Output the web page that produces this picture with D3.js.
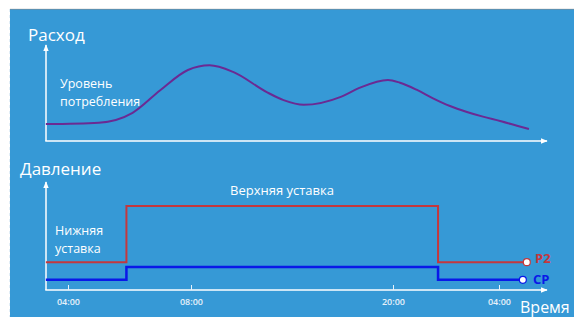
<!DOCTYPE html>
<html><head><meta charset="utf-8">
<script src="https://cdn.jsdelivr.net/npm/d3@7"></script>
<style>html,body{margin:0;padding:0;background:#fff;overflow:hidden}svg{display:block}text{font-family:"Open Sans","Noto Sans",sans-serif}</style>
</head><body><svg id="c" width="574" height="317"></svg>
<script>
// ---- data ----
const tickHours = [4, 8, 20, 28];
const tickLabels = ["04:00", "08:00", "20:00", "04:00"];
// consumption curve (hours, relative level 0..100)
const flowHours  = [3.28, 5.0, 6.1, 7.0, 7.9, 9.1, 10.5, 12.5, 13.5, 14.7, 16.9, 18.0, 19.7, 20.53, 21.81, 23.02, 24.3, 25.58, 26.79, 28.08, 29.36, 30.26];
const flowValues = [18, 19.5, 30, 54, 75.5, 80.5, 73.5, 52, 43.5, 38.5, 47, 56.5, 65, 62, 54.3, 45.4, 37.2, 30.9, 25.9, 21.3, 16.3, 12.8];
// pressure set-points (step series)
const p2Hours  = [3.28, 5.9, 23.4, 30.1];
const p2Values = [2.6, 7.85, 2.6, 2.6];
const cpHours  = [3.28, 5.9, 23.4, 29.8];
const cpValues = [0.95, 2.15, 0.95, 0.95];

const svg = d3.select("#c");
const W = 574, H = 317;
const BG = "#3699d6";

// background
svg.append("rect").attr("x", 10).attr("y", 9).attr("width", W - 10).attr("height", H - 9).attr("fill", BG);
svg.append("line").attr("x1", 10).attr("x2", W).attr("y1", 9.25).attr("y2", 9.25).attr("stroke", "#8a8a8a").attr("stroke-width", 0.6);
svg.append("line").attr("x1", 9.5).attr("x2", 9.5).attr("y1", 9).attr("y2", H)
  .attr("stroke", "#cfe3f3").attr("stroke-width", 1).attr("stroke-dasharray", "3,3").attr("opacity", 0.6);

// arrow marker
const defs = svg.append("defs");
defs.append("marker").attr("id", "arr").attr("viewBox", "0 0 10 10").attr("refX", 9).attr("refY", 5)
  .attr("markerWidth", 7).attr("markerHeight", 7).attr("markerUnits", "userSpaceOnUse").attr("orient", "auto")
  .append("path").attr("d", "M0,1 L10,5 L0,9 Z").attr("fill", "#fff");

// scales
const x = d3.scaleLinear().domain(tickHours).range([68, 191, 393, 499]);
const yTop = d3.scaleLinear().domain([0, 100]).range([141, 47]);
const yBot = d3.scaleLinear().domain([0, 10]).range([290, 183]);
const x0 = 46, xEnd = 547;

// ---- top chart ----
svg.append("line").attr("x1", x0).attr("x2", x0).attr("y1", 141).attr("y2", 45)
  .attr("stroke", "#fff").attr("stroke-width", 1.5).attr("marker-end", "url(#arr)");
svg.append("line").attr("x1", x0 - 0.75).attr("x2", xEnd).attr("y1", 141).attr("y2", 141)
  .attr("stroke", "#fff").attr("stroke-width", 1.5).attr("marker-end", "url(#arr)");

const flow = flowHours.map((h, i) => [h, flowValues[i]]);
svg.append("path").datum(flow)
  .attr("d", d3.line().x(d => x(d[0])).y(d => yTop(d[1])).curve(d3.curveMonotoneX))
  .attr("fill", "none").attr("stroke", "#6b2a93").attr("stroke-width", 2);

svg.append("text").attr("x", 28).attr("y", 41).attr("fill", "#fff").attr("font-size", 17).text("Расход");
svg.append("text").attr("x", 60).attr("y", 88).attr("fill", "#fff").attr("font-size", 12.5).text("Уровень");
svg.append("text").attr("x", 60).attr("y", 105.5).attr("fill", "#fff").attr("font-size", 12.5).text("потребления");

// ---- bottom chart ----
svg.append("line").attr("x1", x0).attr("x2", x0).attr("y1", 290).attr("y2", 182)
  .attr("stroke", "#fff").attr("stroke-width", 1.5).attr("marker-end", "url(#arr)");
svg.append("line").attr("x1", x0 - 0.75).attr("x2", xEnd).attr("y1", 290).attr("y2", 290)
  .attr("stroke", "#fff").attr("stroke-width", 1.5).attr("marker-end", "url(#arr)");

const axis = d3.axisBottom(x).tickValues(tickHours).tickFormat((d, i) => tickLabels[i])
  .tickSizeInner(-5).tickSizeOuter(0).tickPadding(8.5);
const gAx = svg.append("g").attr("transform", "translate(0,290)").call(axis);
gAx.select(".domain").remove();
gAx.selectAll(".tick line").attr("stroke", "#e6f1fa").attr("stroke-width", 1);
gAx.selectAll(".tick text").attr("fill", "#e6f1fa").attr("font-size", 9).attr("font-weight", 600)
  .attr("font-family", "'Open Sans', sans-serif");

const stepLine = d3.line().x(d => x(d[0])).y(d => yBot(d[1])).curve(d3.curveStepAfter);
const p2 = p2Hours.map((h, i) => [h, p2Values[i]]);
const cp = cpHours.map((h, i) => [h, cpValues[i]]);
svg.append("path").datum(p2).attr("d", stepLine).attr("fill", "none").attr("stroke", "#c4373d").attr("stroke-width", 2);
svg.append("path").datum(cp).attr("d", stepLine).attr("fill", "none").attr("stroke", "#0a18e8").attr("stroke-width", 2.5);

const lastP2 = p2[p2.length - 1], lastCp = cp[cp.length - 1];
svg.append("circle").attr("cx", x(lastP2[0])).attr("cy", yBot(lastP2[1])).attr("r", 3.5)
  .attr("fill", "#fff").attr("stroke", "#c4373d").attr("stroke-width", 1.2);
svg.append("circle").attr("cx", x(lastCp[0])).attr("cy", yBot(lastCp[1])).attr("r", 3.5)
  .attr("fill", "#fff").attr("stroke", "#0a18e8").attr("stroke-width", 1.2);

svg.append("text").attr("x", 535).attr("y", 263).attr("fill", "#c4373d").attr("font-size", 13).attr("font-weight", 700).text("P2");
svg.append("text").attr("x", 533).attr("y", 284).attr("fill", "#0a18e8").attr("font-size", 13).attr("font-weight", 700).text("CP");

svg.append("text").attr("x", 20).attr("y", 175).attr("fill", "#fff").attr("font-size", 17).text("Давление");
svg.append("text").attr("x", 230).attr("y", 195).attr("fill", "#fff").attr("font-size", 13).text("Верхняя уставка");
svg.append("text").attr("x", 55).attr("y", 235).attr("fill", "#fff").attr("font-size", 12.5).text("Нижняя");
svg.append("text").attr("x", 55).attr("y", 252.5).attr("fill", "#fff").attr("font-size", 12.5).text("уставка");
svg.append("text").attr("x", 520).attr("y", 313).attr("fill", "#fff").attr("font-size", 16).text("Время");
</script></body></html>
